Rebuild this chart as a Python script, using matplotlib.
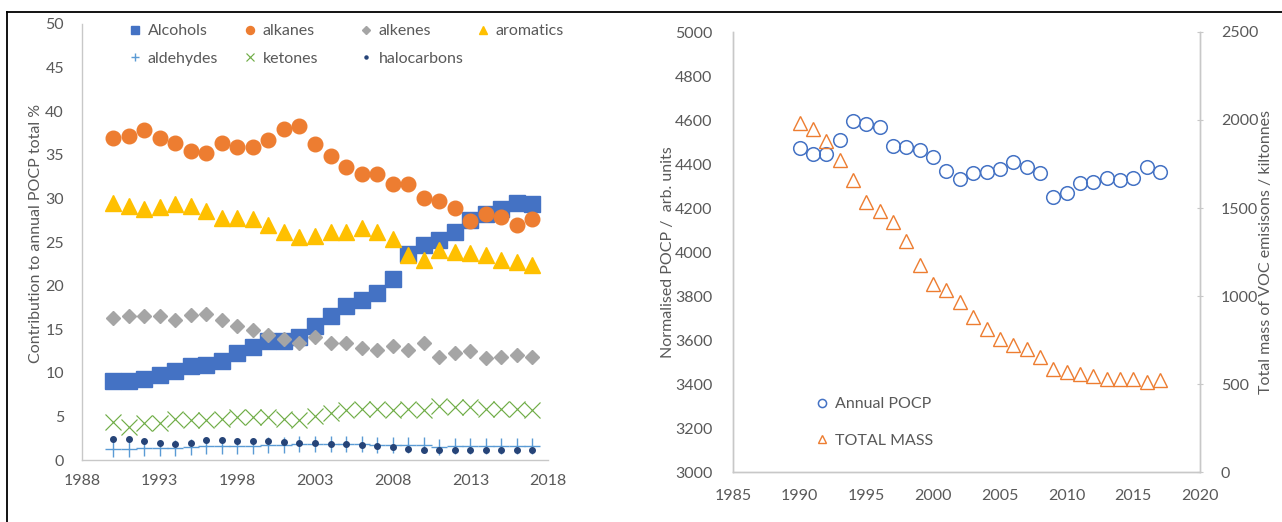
import matplotlib
matplotlib.use('Agg')
import matplotlib.pyplot as plt
from matplotlib.lines import Line2D
from matplotlib.legend import Legend

plt.rcParams['font.family'] = ['Lato', 'DejaVu Sans']

# ---------------- data ----------------
years = list(range(1990, 2018))

alcohols = [9.1, 9.1, 9.25, 9.75, 10.25, 10.8, 10.9, 11.4, 12.3, 13.0, 13.6, 13.6, 14.1, 15.4,
            16.5, 17.7, 18.3, 19.2, 20.7, 23.6, 24.7, 25.2, 26.1, 27.5, 28.2, 28.75, 29.5, 29.4]
alkanes = [36.9, 37.2, 37.8, 36.9, 36.3, 35.4, 35.2, 36.4, 35.9, 35.9, 36.7, 38.0, 38.3, 36.2,
           34.9, 33.6, 32.8, 32.8, 31.7, 31.7, 30.0, 29.7, 28.9, 27.4, 28.2, 27.9, 27.0, 27.6]
alkenes = [16.3, 16.5, 16.5, 16.5, 16.05, 16.6, 16.7, 16.0, 15.4, 14.9, 14.3, 13.85, 13.45, 14.05,
           13.4, 13.4, 12.9, 12.6, 13.1, 12.6, 13.4, 11.85, 12.25, 12.55, 11.65, 11.85, 12.05, 11.85]
aromatics = [29.5, 29.1, 28.75, 29.05, 29.4, 29.1, 28.5, 27.7, 27.7, 27.6, 27.0, 26.2, 25.6, 25.7,
             26.2, 26.2, 26.6, 26.1, 25.4, 23.5, 22.9, 24.1, 23.8, 23.7, 23.5, 22.9, 22.7, 22.4]
aldehydes = [1.3, 1.3, 1.4, 1.4, 1.4, 1.5, 1.6, 1.6, 1.6, 1.6, 1.7, 1.7, 1.8, 1.8,
             1.8, 1.8, 1.8, 1.7, 1.7, 1.7, 1.7, 1.5, 1.6, 1.6, 1.6, 1.6, 1.6, 1.6]
ketones = [4.4, 3.8, 4.2, 4.2, 4.65, 4.55, 4.55, 4.65, 4.95, 4.95, 4.95, 4.65, 4.55, 5.05,
           5.4, 5.7, 5.85, 5.9, 5.7, 5.8, 5.7, 6.2, 6.1, 6.1, 5.9, 5.8, 5.9, 5.7]
halocarbons = [2.45, 2.45, 2.2, 2.0, 1.8, 2.0, 2.3, 2.3, 2.2, 2.2, 2.2, 2.1, 2.0, 2.0,
               1.8, 1.8, 1.7, 1.6, 1.45, 1.3, 1.2, 1.2, 1.2, 1.2, 1.2, 1.2, 1.2, 1.2]

annual_pocp = [4475, 4445, 4445, 4510, 4597, 4581, 4570, 4484, 4479, 4464, 4434, 4369, 4332, 4358,
               4362, 4378, 4408, 4388, 4358, 4252, 4267, 4313, 4317, 4338, 4328, 4338, 4388, 4362]
total_mass = [1982, 1948, 1882, 1774, 1660, 1535, 1485, 1423, 1314, 1178, 1068, 1034, 967, 882,
              812, 753, 721, 698, 654, 588, 569, 556, 545, 526, 526, 526, 512, 522]

left_xticks = [1988, 1993, 1998, 2003, 2008, 2013, 2018]
left_yticks = list(range(0, 51, 5))
right_xticks = list(range(1985, 2021, 5))
right_yticks = list(range(3000, 5001, 200))
mass_ticks = list(range(0, 2501, 500))

# ---------------- styling ----------------
W, H = 1282, 522
fig = plt.figure(figsize=(W / 100, H / 100), dpi=100)
TXT = '#595959'
SP = '#C8C8C8'
FS = 11.5

def fx(px):
    return px / W

def fy(py):
    return 1 - py / H

# border of the image (top + left)
fig.add_artist(Line2D([fx(7), fx(7)], [fy(12), 0], color='black', lw=1.3))
fig.add_artist(Line2D([fx(7), 1], [fy(12), fy(12)], color='black', lw=1.3))

# ---------------- left chart ----------------
ax1 = fig.add_axes([fx(82), fy(460), fx(548) - fx(82), fy(24) - fy(460)])
c_alc, c_alk, c_ene, c_aro = '#4472C4', '#ED7D31', '#A5A5A5', '#FFC000'
c_ald, c_ket, c_hal = '#5B9BD5', '#70AD47', '#264478'

series = [
    ('Alcohols', alcohols, dict(marker='s', ms=11, color=c_alc, mec=c_alc)),
    ('alkanes', alkanes, dict(marker='o', ms=10.5, color=c_alk, mec=c_alk)),
    ('alkenes', alkenes, dict(marker='D', ms=6.8, color=c_ene, mec=c_ene)),
    ('aromatics', aromatics, dict(marker='^', ms=11, color=c_aro, mec=c_aro)),
    ('aldehydes', aldehydes, dict(marker='+', ms=11, color=c_ald, mew=1.0)),
    ('ketones', ketones, dict(marker='x', ms=11, color=c_ket, mew=0.85)),
    ('halocarbons', halocarbons, dict(marker='o', ms=4, color=c_hal, mec=c_hal)),
]
handles = {}
for name, vals, st in series:
    h, = ax1.plot(years, vals, ls='none', label=name, **st)
    handles[name] = h

ax1.set_xlim(1988, 2018)
ax1.set_ylim(0, 50)
ax1.set_xticks(left_xticks)
ax1.set_yticks(left_yticks)
ax1.tick_params(axis='both', length=0, labelsize=FS, colors=TXT)
ax1.tick_params(axis='y', pad=13)
ax1.tick_params(axis='x', pad=10)
for s in ['top', 'right']:
    ax1.spines[s].set_visible(False)
for s in ['left', 'bottom']:
    ax1.spines[s].set_color(SP)
    ax1.spines[s].set_linewidth(1.0)
ax1.set_ylabel('Contribution to annual POCP total %', fontsize=FS, color=TXT)
ax1.yaxis.set_label_coords((43 - 82) / 466, 0.52)

# legend: 4 columns placed at fixed positions
cols = [['Alcohols', 'aldehydes'], ['alkanes', 'ketones'], ['alkenes', 'halocarbons'], ['aromatics']]
col_x = [128, 243, 359, 476]
for names, cx in zip(cols, col_x):
    lg = Legend(ax1, [handles[n] for n in names], names, loc='upper left',
                bbox_to_anchor=((cx - 82) / 466, (460 - 24) / 436), frameon=False,
                fontsize=FS, markerscale=0.55, handlelength=0.9, handletextpad=0.35,
                labelspacing=0.85, borderpad=0, borderaxespad=0, labelcolor=TXT)
    ax1.add_artist(lg)

# ---------------- right chart ----------------
ax2 = fig.add_axes([fx(733), fy(472), fx(1200) - fx(733), fy(32) - fy(472)])
c_p, c_m = '#4472C4', '#ED7D31'
hp, = ax2.plot(years, annual_pocp, ls='none', marker='o', ms=9.8, mfc='none', mec=c_p, mew=1.1,
               label='Annual POCP')
ax2.set_xlim(1985, 2020)
ax2.set_ylim(3000, 5000)
ax2.set_xticks(right_xticks)
ax2.set_yticks(right_yticks)
ax2.tick_params(axis='both', length=0, labelsize=FS, colors=TXT)
ax2.tick_params(axis='y', pad=15)
ax2.tick_params(axis='x', pad=12)

ax3 = ax2.twinx()
hm, = ax3.plot(years, total_mass, ls='none', marker='^', ms=10, mfc='none', mec=c_m, mew=1.0,
               label='TOTAL MASS')
ax3.set_ylim(0, 2500)
ax3.set_yticks(mass_ticks)
ax3.tick_params(axis='y', length=4, direction='inout', color=SP, labelsize=FS, labelcolor=TXT, pad=13)

ax2.set_ylabel('Normalised POCP /  arb. units', fontsize=FS, color=TXT)
ax2.yaxis.set_label_coords((675 - 733) / 467, 0.5, transform=ax2.transAxes)
ax3.set_ylabel('Total mass of VOC emisisons / kiltonnes', fontsize=FS, color=TXT)
ax3.yaxis.set_label_coords((1259 - 733) / 467, 0.5, transform=ax3.transAxes)

for a in (ax2, ax3):
    a.spines['top'].set_visible(False)
    for s in ['left', 'bottom', 'right']:
        a.spines[s].set_color(SP)
        a.spines[s].set_linewidth(1.0)

lg2 = Legend(ax3, [hp, hm], ['Annual POCP', 'TOTAL MASS'], loc='upper left',
             bbox_to_anchor=((815 - 733) / 467, (472 - 397) / 440), frameon=False,
             fontsize=FS, markerscale=0.6, handlelength=0.9, handletextpad=0.35,
             labelspacing=1.4, borderpad=0, borderaxespad=0, labelcolor=TXT)
ax3.add_artist(lg2)

fig.savefig('out.png', dpi=100, facecolor='white')
